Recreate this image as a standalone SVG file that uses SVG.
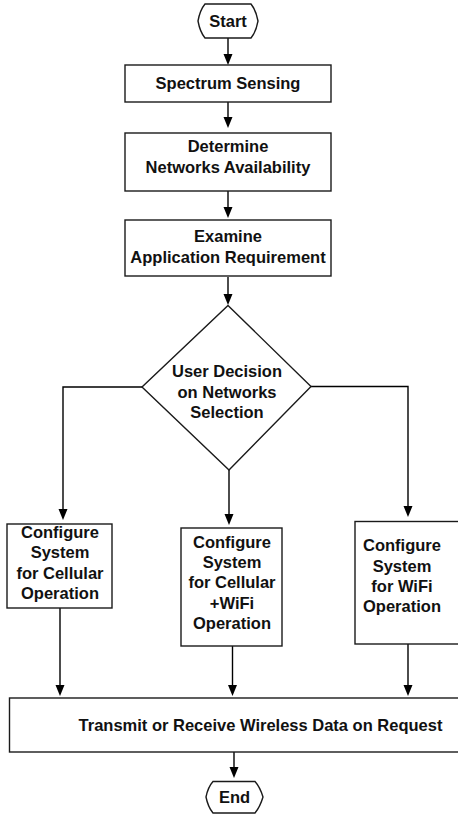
<svg xmlns="http://www.w3.org/2000/svg" width="458" height="815" viewBox="0 0 458 815">
<defs>
<marker id="ah" markerWidth="9" markerHeight="11" refX="4.5" refY="10" orient="auto-start-reverse" markerUnits="userSpaceOnUse" viewBox="0 0 9 11">
<path d="M0,0 L9,0 L4.5,11 Z" transform="rotate(0)" fill="#000"/>
</marker>
<style>
.box{fill:#fff;stroke:#1a1a1a;stroke-width:1.4}
.ln{fill:none;stroke:#000;stroke-width:1.4}
.t{font-family:"Liberation Sans",Arial,Helvetica,sans-serif;font-weight:bold;font-size:16.5px;fill:#111;text-anchor:middle}
</style>
</defs>
<rect width="458" height="815" fill="#fff"/>
<g id="connectors">
<path class="ln" d="M228,38 V55"/><path d="M223.5,54 L232.5,54 L228,65 Z"/>
<path class="ln" d="M228,102 V118"/><path d="M223.5,117 L232.5,117 L228,128 Z"/>
<path class="ln" d="M228,191 V208"/><path d="M223.5,207 L232.5,207 L228,218 Z"/>
<path class="ln" d="M228,277 V295"/><path d="M223.5,294 L232.5,294 L228,305 Z"/>
<path class="ln" d="M142,387 H63 V510"/><path d="M58.5,509 L67.5,509 L63,520 Z"/>
<path class="ln" d="M311,386.5 H408 V507"/><path d="M403.5,506 L412.5,506 L408,517 Z"/>
<path class="ln" d="M229,470 V515"/><path d="M224.5,514 L233.5,514 L229,525 Z"/>
<path class="ln" d="M60,608 V686"/><path d="M55.5,685 L64.5,685 L60,696 Z"/>
<path class="ln" d="M232.5,646 V686"/><path d="M228,685 L237,685 L232.5,696 Z"/>
<path class="ln" d="M408,644 V686"/><path d="M403.5,685 L412.5,685 L408,696 Z"/>
<path class="ln" d="M234,752 V768"/><path d="M229.5,767 L238.5,767 L234,778 Z"/>
</g>
<g id="start">
<path class="box" d="M205,4 H251 Q256,10 258,21 Q256,32 251,38 H205 Q200,32 198,21 Q200,10 205,4 Z"/>
<text class="t" x="228" y="27">Start</text>
</g>
<g id="spectrum">
<rect class="box" x="125" y="65" width="206" height="37"/>
<text class="t" x="228" y="89">Spectrum Sensing</text>
</g>
<g id="determine">
<rect class="box" x="125" y="133" width="206" height="58"/>
<text class="t" x="228" y="152">Determine</text>
<text class="t" x="228" y="173">Networks Availability</text>
</g>
<g id="examine">
<rect class="box" x="125" y="220" width="206" height="56"/>
<text class="t" x="228" y="241.5">Examine</text>
<text class="t" x="228" y="262.5">Application Requirement</text>
</g>
<g id="decision">
<path class="box" d="M228,305.5 L311,386.5 L229,470 L142,387 Z"/>
<text class="t" x="227" y="377">User Decision</text>
<text class="t" x="227" y="398">on Networks</text>
<text class="t" x="227" y="418">Selection</text>
</g>
<g id="cellular">
<rect class="box" x="7" y="524" width="105" height="84"/>
<text class="t" x="60" y="538">Configure</text>
<text class="t" x="60" y="558">System</text>
<text class="t" x="60" y="579">for Cellular</text>
<text class="t" x="60" y="599">Operation</text>
</g>
<g id="cellwifi">
<rect class="box" x="181" y="528" width="101" height="118"/>
<text class="t" x="232" y="548">Configure</text>
<text class="t" x="232" y="568">System</text>
<text class="t" x="232" y="588">for Cellular</text>
<text class="t" x="232" y="609">+WiFi</text>
<text class="t" x="232" y="629">Operation</text>
</g>
<g id="wifi">
<rect class="box" x="355" y="521.5" width="110" height="122.5"/>
<text class="t" x="402" y="551">Configure</text>
<text class="t" x="402" y="571.5">System</text>
<text class="t" x="402" y="592">for WiFi</text>
<text class="t" x="402" y="612">Operation</text>
</g>
<g id="transmit">
<rect class="box" x="9.5" y="698" width="460" height="54"/>
<text class="t" x="260.5" y="731">Transmit or Receive Wireless Data on Request</text>
</g>
<g id="end">
<path class="box" d="M213,781.5 H255 Q260,787 263,797 Q260,807 255,813 H213 Q208,807 206,797 Q208,787 213,781.5 Z"/>
<text class="t" x="234.5" y="803">End</text>
</g>
</svg>
